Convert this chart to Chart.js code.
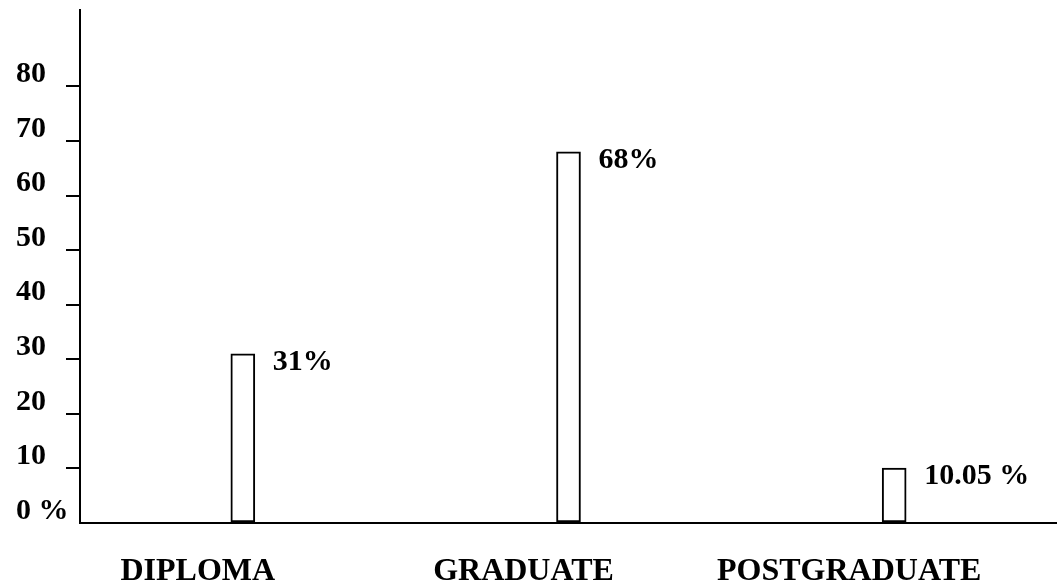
<!DOCTYPE html>
<html>
<head>
<meta charset="utf-8">
<script src="https://cdn.jsdelivr.net/npm/chart.js@4.4.0/dist/chart.umd.min.js"></script>
<style>
  html, body { margin: 0; padding: 0; background: #fff; }
  canvas { display: block; }
</style>
</head>
<body>
<canvas id="chart" width="1057" height="588"></canvas>
<script>
// Education level of respondents (percent)
const categories = ['DIPLOMA', 'GRADUATE', 'POSTGRADUATE'];
const shares = [31, 68, 10.05];
const shareLabels = ['31%', '68%', '10.05 %'];
const yTickValues = [0, 10, 20, 30, 40, 50, 60, 70, 80];

const SERIF = '"Liberation Serif", "Times New Roman", serif';

// Writes each percentage just to the right of the top of its bar
const valueLabels = {
  id: 'valueLabels',
  afterDatasetsDraw(chart) {
    const ctx = chart.ctx;
    const meta = chart.getDatasetMeta(0);
    ctx.save();
    ctx.font = 'bold 30px ' + SERIF;
    ctx.fillStyle = '#000';
    ctx.textAlign = 'left';
    ctx.textBaseline = 'middle';
    meta.data.forEach((bar, i) => {
      const p = bar.getProps(['x', 'y', 'width'], true);
      ctx.fillText(shareLabels[i], p.x + p.width / 2 + 18, p.y + 8);
    });
    ctx.restore();
  }
};

new Chart(document.getElementById('chart'), {
  type: 'bar',
  data: {
    labels: categories,
    datasets: [{
      data: shares,
      backgroundColor: '#fff',
      borderColor: '#000',
      borderWidth: 2,
      borderSkipped: false,
      barThickness: 24
    }]
  },
  options: {
    responsive: false,
    animation: false,
    devicePixelRatio: 1,
    layout: { padding: { top: 10, left: 16, right: 0, bottom: 0 } },
    plugins: {
      legend: { display: false },
      tooltip: { enabled: false },
      title: { display: false }
    },
    scales: {
      x: {
        afterFit(scale) {
          scale.height = 65;
          scale.paddingLeft = 0;
          scale.paddingRight = 0;
        },
        grid: { display: false },
        border: { display: true, color: '#000', width: 2 },
        ticks: {
          color: '#000',
          padding: 22,
          labelOffset: -45,
          maxRotation: 0,
          font: { family: SERIF, size: 32, weight: 'bold' }
        }
      },
      y: {
        min: 0,
        max: 94,
        afterFit(scale) {
          scale.width = 64;
          scale.paddingTop = 0;
          scale.paddingBottom = 0;
        },
        afterBuildTicks(scale) {
          scale.ticks = yTickValues.map(v => ({ value: v }));
        },
        grid: {
          drawOnChartArea: false,
          drawTicks: true,
          tickLength: 14,
          lineWidth: 2,
          color: (c) => (c.tick && c.tick.value === 0) ? 'rgba(0,0,0,0)' : '#000'
        },
        border: { display: true, color: '#000', width: 2 },
        ticks: {
          color: '#000',
          padding: 18,
          crossAlign: 'far',
          labelOffset: -12,
          font: { family: SERIF, size: 30, weight: 'bold' },
          callback: (v) => (v === 0 ? '0 %' : String(v))
        }
      }
    }
  },
  plugins: [valueLabels]
});
</script>
</body>
</html>
